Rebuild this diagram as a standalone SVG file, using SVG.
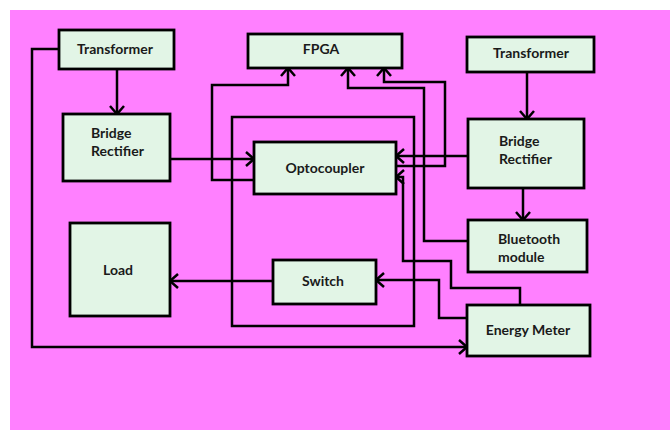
<svg xmlns="http://www.w3.org/2000/svg" width="670" height="430" viewBox="0 0 670 430">
<defs>
<marker id="arr" markerUnits="userSpaceOnUse" markerWidth="20" markerHeight="20" refX="9" refY="7" orient="auto" overflow="visible">
<path d="M1,0 L9,7 L1,14" fill="none" stroke="#000" stroke-width="2.5"/>
</marker>
<style>
.box{fill:#E2F5E6;stroke:#000;stroke-width:2.8}
.t{font-family:Lato,"Open Sans","Liberation Sans",sans-serif;font-weight:bold;font-size:14px;fill:#1a1a1a}
.c{text-anchor:middle}
.ln{fill:none;stroke:#000;stroke-width:2.5}
.a{marker-end:url(#arr)}
</style>
</defs>
<rect x="0" y="0" width="670" height="430" fill="#fff"/>
<rect x="10" y="10" width="660" height="420" fill="#FF80FF"/>
<g id="connectors">
<path class="ln a" d="M59,49 H32 V347 H467"/>
<path class="ln a" d="M117,69 V114"/>
<path class="ln a" d="M170,159 H254"/>
<path class="ln" d="M232,117 H414 V326 H232 Z"/>
<path class="ln a" d="M254,180 H212 V85 H288 V68"/>
<path class="ln a" d="M468,241 H424 V88 H348 V68"/>
<path class="ln a" d="M396,166 H445 V82 H384 V68"/>
<path class="ln a" d="M468,156 H396"/>
<path class="ln a" d="M520,305 V288 H451 V261 H403 V177 H396"/>
<path class="ln a" d="M467,318 H439 V280 H376"/>
<path class="ln a" d="M273,281 H170"/>
<path class="ln a" d="M527,72 V119"/>
<path class="ln a" d="M523,188 V220"/>
</g>
<g id="transformer1"><rect class="box" x="59" y="30" width="115" height="39"/><text class="t c" x="115" y="54">Transformer</text></g>
<g id="fpga"><rect class="box" x="248" y="34" width="154" height="34"/><text class="t c" x="321" y="54">FPGA</text></g>
<g id="transformer2"><rect class="box" x="467" y="37" width="127" height="35"/><text class="t c" x="531" y="58">Transformer</text></g>
<g id="bridge1"><rect class="box" x="63" y="114" width="107" height="67"/><text class="t" x="91" y="138">Bridge</text><text class="t" x="91" y="156">Rectifier</text></g>
<g id="bridge2"><rect class="box" x="468" y="119" width="116" height="69"/><text class="t" x="499" y="146">Bridge</text><text class="t" x="499" y="164">Rectifier</text></g>
<g id="optocoupler"><rect class="box" x="254" y="142" width="142" height="52"/><text class="t c" x="325" y="173">Optocoupler</text></g>
<g id="load"><rect class="box" x="70" y="223" width="100" height="93"/><text class="t c" x="118" y="275">Load</text></g>
<g id="switch"><rect class="box" x="273" y="260" width="103" height="44"/><text class="t c" x="323" y="286">Switch</text></g>
<g id="bluetooth"><rect class="box" x="468" y="220" width="119" height="52"/><text class="t" x="498" y="244">Bluetooth</text><text class="t" x="498" y="262">module</text></g>
<g id="energymeter"><rect class="box" x="467" y="305" width="123" height="51"/><text class="t c" x="528" y="335">Energy Meter</text></g>
</svg>
